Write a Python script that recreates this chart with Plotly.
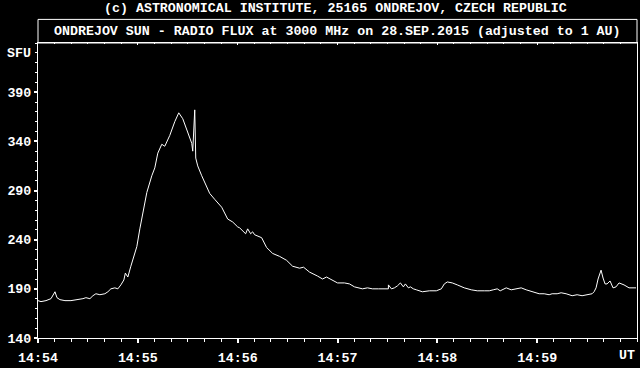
import plotly.graph_objects as go

# seconds after 14:54:00 UT
t_sec = [0, 1.8, 4.8, 7.8, 10.2, 11.4, 13.2, 16.2, 19.8, 24, 27, 28.8, 31.2, 33, 34.8, 37.2, 40.2,
         42, 43.8, 46.2, 48, 49.8, 51.6, 52.5, 54, 55.8, 58.2, 59.4, 61.2, 63, 65.4, 68.4, 70.2,
         72, 74.4, 76.2, 79.2, 82.2, 84.6, 87, 90, 92.4, 93, 93.6, 94.2, 94.8, 96, 98.4, 101.4,
         103.2, 106.2, 110.4, 114, 117, 120, 121.2, 124.8, 126, 127.8, 129, 130.2, 134.4, 137.4,
         141, 145.2, 149.4, 153, 157.2, 159.6, 163.2, 168, 171, 173.4, 176.4, 180, 184.2, 187.2,
         190.2, 192, 195, 198, 201, 204.6, 207.6, 210.6, 210.6, 212.4, 214.2, 216, 217.8, 219.6,
         220.8, 222.6, 223.8, 225.6, 227.4, 231, 235.2, 239.4, 242.4, 244.2, 246, 249, 252, 256.2,
         260.4, 264, 268.2, 271.2, 273.6, 276, 277.8, 281.4, 284.4, 287.4, 290.4, 293.4, 297, 301.2,
         304.2, 307.2, 309, 312, 314.4, 317.4, 321, 324, 327, 330, 331.8, 333, 334.2, 335.4, 336.6,
         338.4, 339.6, 340.8, 342, 343.8, 345.6, 347.4, 349.2, 352.2, 355.2, 357.6, 359.4]
flux_sfu = [178, 177, 178, 180, 187, 181, 179, 178, 178, 179, 180, 181, 180, 183, 185, 184, 185,
            187, 190, 191, 190, 194, 199, 206, 202, 213, 228, 233, 251, 267, 288, 305, 313,
            328, 337, 335, 346, 360, 369, 363, 350, 338, 330, 350, 372, 323, 315, 305, 293,
            287, 281, 273, 261, 258, 253, 252, 246, 251, 246, 248, 245, 242, 232,
            226, 223, 219, 213, 211, 212, 207, 203, 200, 202, 199, 196, 196, 195,
            192, 191, 190, 191, 190, 190, 190, 190, 194, 190, 191, 193, 196, 192,
            195, 191, 192, 190, 189, 187, 188, 188, 190, 195, 197, 196, 194, 191,
            189, 188, 188, 188, 189, 190, 188, 191, 189, 190, 191, 189, 187, 185,
            185, 184, 185, 185, 186, 185, 183, 184, 183, 184, 185, 185, 187, 191,
            200, 209, 201, 195, 195, 198, 191, 192, 196, 194, 191, 191, 191, 192, 189]

x_tickvals = [0, 60, 120, 180, 240, 300]
x_ticktext = ["14:54", "14:55", "14:56", "14:57", "14:58", "14:59"]
y_tickvals = [140, 190, 240, 290, 340, 390]
y_ticktext = ["140", "190", "240", "290", "340", "390"]

top_text = "(c) ASTRONOMICAL INSTITUTE, 25165 ONDREJOV, CZECH REPUBLIC"
title_text = "ONDREJOV SUN - RADIO FLUX at 3000 MHz on 28.SEP.2015 (adjusted to 1 AU)"

FONT = dict(family="Liberation Mono", size=13.3, color="white", weight="bold")

fig = go.Figure()
fig.add_trace(go.Scatter(x=t_sec, y=flux_sfu, mode="lines",
                         line=dict(color="white", width=1), hoverinfo="skip"))
fig.add_trace(go.Scatter(x=t_sec, y=flux_sfu, mode="lines", xaxis="x2",
                         line=dict(color="rgba(0,0,0,0)", width=1), hoverinfo="skip"))

fig.update_layout(
    width=640, height=368,
    margin=dict(l=38, r=2, t=43, b=25),
    paper_bgcolor="black", plot_bgcolor="black",
    showlegend=False,
    font=FONT,
    xaxis=dict(range=[0, 360], tickmode="array", tickvals=x_tickvals, ticktext=x_ticktext,
               showgrid=False, zeroline=False, showline=True, linecolor="white", linewidth=1,
               mirror=True, ticks="outside", ticklen=4, tickwidth=2, tickcolor="white",
               tickfont=FONT, ticklabelstandoff=3,
               minor=dict(tickmode="linear", tick0=0, dtick=10, ticks="outside", ticklen=3,
                          tickwidth=1, tickcolor="white", showgrid=False)),
    xaxis2=dict(range=[0, 360], overlaying="x", side="top", anchor="y",
                tickmode="array", tickvals=x_tickvals, showticklabels=False,
                showgrid=False, zeroline=False, showline=False,
                ticks="inside", ticklen=2, tickwidth=1, tickcolor="white",
                minor=dict(tickmode="linear", tick0=0, dtick=10, ticks="inside", ticklen=1,
                           tickwidth=1, tickcolor="white", showgrid=False)),
    yaxis=dict(range=[140, 440], tickmode="array", tickvals=y_tickvals, ticktext=y_ticktext,
               showgrid=False, zeroline=False, showline=True, linecolor="white", linewidth=1,
               mirror=True, ticks="outside", ticklen=3, tickwidth=2, tickcolor="white",
               tickfont=FONT,
               minor=dict(tickmode="linear", tick0=140, dtick=10, ticks="outside", ticklen=2,
                          tickwidth=1, tickcolor="white", showgrid=False)),
    shapes=[dict(type="rect", xref="paper", yref="paper", x0=0, x1=1, y0=1, y1=1.08,
                 line=dict(color="white", width=1))],
    annotations=[
        dict(text=top_text, xref="paper", yref="paper", x=0.497, y=1.1167,
             xanchor="center", yanchor="middle", showarrow=False, font=FONT),
        dict(text=title_text, xref="paper", yref="paper", x=0.5, y=1.04,
             xanchor="center", yanchor="middle", showarrow=False, font=FONT),
        dict(text="SFU", xref="paper", yref="y", x=0, y=429, xshift=-5,
             xanchor="right", yanchor="middle", showarrow=False, font=FONT),
        dict(text="UT", xref="paper", yref="paper", x=1, y=-0.06, xshift=0,
             xanchor="right", yanchor="middle", showarrow=False, font=FONT),
    ],
)

fig.write_html("out.html")
